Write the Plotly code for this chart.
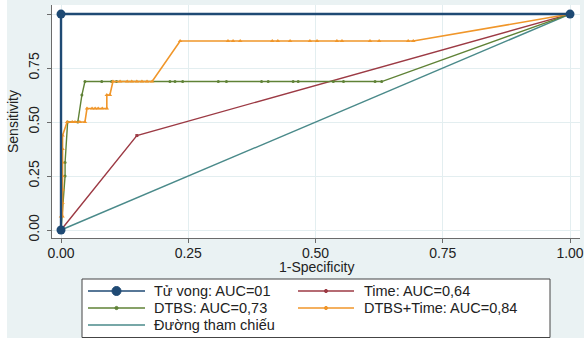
import plotly.graph_objects as go

# ---------------- data ----------------
tuvong_fpr = [0, 0, 1]
tuvong_tpr = [0, 1, 1]

time_fpr = [0, 0.149, 1]
time_tpr = [0, 0.4375, 1]

dtbs_fpr = [0, 0.008, 0.008, 0.013, 0.033, 0.041,
            0.047, 0.080, 0.0996, 0.109, 0.214, 0.224, 0.239, 0.309, 0.325,
            0.394, 0.407, 0.456, 0.466, 0.535, 0.555, 0.617, 0.630, 1]
dtbs_tpr = [0, 0.25, 0.3125, 0.5, 0.5, 0.625] + [0.6875] * 17 + [1]

combo_fpr = [0, 0, 0.003, 0.003, 0.003, 0.003, 0.003, 0.003, 0.003,
             0.012, 0.022, 0.0275, 0.037, 0.047,
             0.051, 0.061, 0.067, 0.073, 0.081, 0.090,
             0.090, 0.096,
             0.102, 0.116, 0.130, 0.139, 0.149, 0.159, 0.169, 0.179,
             0.234, 0.328, 0.338, 0.352, 0.415, 0.426, 0.450, 0.489,
             0.503, 0.542, 0.552, 0.607, 0.625, 0.682, 0.692, 1]
combo_tpr = ([0, 0.0625, 0.0625, 0.125, 0.1875, 0.25, 0.3125, 0.375, 0.4375]
             + [0.5] * 5 + [0.5625] * 6 + [0.625] * 2 + [0.6875] * 8
             + [0.875] * 15 + [1])

ref_x = [0, 1]
ref_y = [0, 1]

names = ["Tử vong: AUC=01", "Time: AUC=0,64", "DTBS: AUC=0,73",
         "DTBS+Time: AUC=0,84", "Đường tham chiếu"]
tick_vals = [0, 0.25, 0.5, 0.75, 1]
tick_text = ["0.00", "0.25", "0.50", "0.75", "1.00"]
x_title = "1-Specificity"
y_title = "Sensitivity"

# ---------------- colours ----------------
c_navy = "#1f4a74"
c_red = "#9c3a44"
c_green = "#5f8236"
c_orange = "#f0962a"
c_teal = "#4a8a8a"
colors = [c_navy, c_red, c_green, c_orange, c_teal]

fig = go.Figure()
fig.add_trace(go.Scatter(x=ref_x, y=ref_y, mode="lines", name=names[4],
                         line=dict(color=c_teal, width=1.4)))
fig.add_trace(go.Scatter(x=time_fpr, y=time_tpr, mode="lines+markers", name=names[1],
                         line=dict(color=c_red, width=1.4),
                         marker=dict(symbol="square", size=3, color=c_red)))
fig.add_trace(go.Scatter(x=dtbs_fpr, y=dtbs_tpr, mode="lines+markers", name=names[2],
                         line=dict(color=c_green, width=1.4),
                         marker=dict(symbol="circle", size=3, color=c_green)))
fig.add_trace(go.Scatter(x=combo_fpr, y=combo_tpr, mode="lines+markers", name=names[3],
                         line=dict(color=c_orange, width=1.6),
                         marker=dict(symbol="triangle-up", size=4, color=c_orange)))
fig.add_trace(go.Scatter(x=tuvong_fpr, y=tuvong_tpr, mode="lines+markers", name=names[0],
                         line=dict(color=c_navy, width=2.4),
                         marker=dict(symbol="circle", size=9, color=c_navy)))

# ---------------- layout geometry (pixels) ----------------
W, H = 584, 338
ML, MR, MT, MB = 52, 4, 5, 100
PW, PH = W - ML - MR, H - MT - MB


def px(x):
    return (x - ML) / PW


def py(y):
    return (H - MB - y) / PH


font_family = "Liberation Sans, Arial, sans-serif"
axis_common = dict(
    showline=True, linecolor="#6b6b6b", linewidth=1.2,
    ticks="outside", ticklen=4, tickcolor="#6b6b6b",
    showgrid=True, gridcolor="#e3eef0", gridwidth=1,
    zeroline=False, tickvals=tick_vals, ticktext=tick_text, automargin=False,
    tickfont=dict(family=font_family, size=14, color="#222"),
)

shapes = [dict(type="rect", xref="paper", yref="paper",
               x0=px(-2), x1=px(7), y0=py(H + 5), y1=py(-5),
               fillcolor="white", line=dict(width=0), layer="below")]
annotations = [dict(xref="paper", yref="paper", x=px(316), y=py(266.5),
                    xanchor="center", yanchor="middle", showarrow=False,
                    text=x_title, font=dict(family=font_family, size=14, color="#222"))]

# legend box drawn below the plot
shapes.append(dict(type="rect", xref="paper", yref="paper",
                   x0=px(82), x1=px(550), y0=py(337.5), y1=py(279),
                   fillcolor="white", line=dict(color="#444", width=1)))
legend_slots = [(88, 145, 152, 291), (298, 354, 362, 291),
                (88, 145, 152, 308), (298, 354, 362, 308),
                (88, 145, 152, 325)]
marker_r = [4.5, 1.6, 1.6, 1.6, 0]
for idx, slot in enumerate(legend_slots):
    lx0, lx1, tx, ly = slot
    col = colors[idx]
    shapes.append(dict(type="line", xref="paper", yref="paper",
                       x0=px(lx0), x1=px(lx1), y0=py(ly), y1=py(ly),
                       line=dict(color=col, width=1.5)))
    r = marker_r[idx]
    if r > 0:
        cx = (lx0 + lx1) / 2
        shapes.append(dict(type="circle", xref="paper", yref="paper",
                           x0=px(cx - r), x1=px(cx + r), y0=py(ly + r), y1=py(ly - r),
                           fillcolor=col, line=dict(color=col, width=1)))
    annotations.append(dict(xref="paper", yref="paper", x=px(tx), y=py(ly),
                            xanchor="left", yanchor="middle", showarrow=False,
                            text=names[idx],
                            font=dict(family=font_family, size=14.5, color="#222")))

fig.update_layout(
    width=W, height=H,
    margin=dict(l=ML, r=MR, t=MT, b=MB),
    paper_bgcolor="#eaf2f3", plot_bgcolor="white",
    showlegend=False,
    font=dict(family=font_family, size=14, color="#222"),
    xaxis=dict(range=[-0.0177, 1.0196], ticklabelstandoff=-2, **axis_common),
    yaxis=dict(range=[-0.037, 1.042], tickangle=-90, ticklabelstandoff=2,
               title=dict(text=y_title, standoff=4, font=dict(size=14)), **axis_common),
    shapes=shapes,
    annotations=annotations,
)

fig.write_html("out.html",
               config={"displayModeBar": False},
               post_script="document.body.style.margin='0px';"
                           "document.body.style.overflow='hidden';")
